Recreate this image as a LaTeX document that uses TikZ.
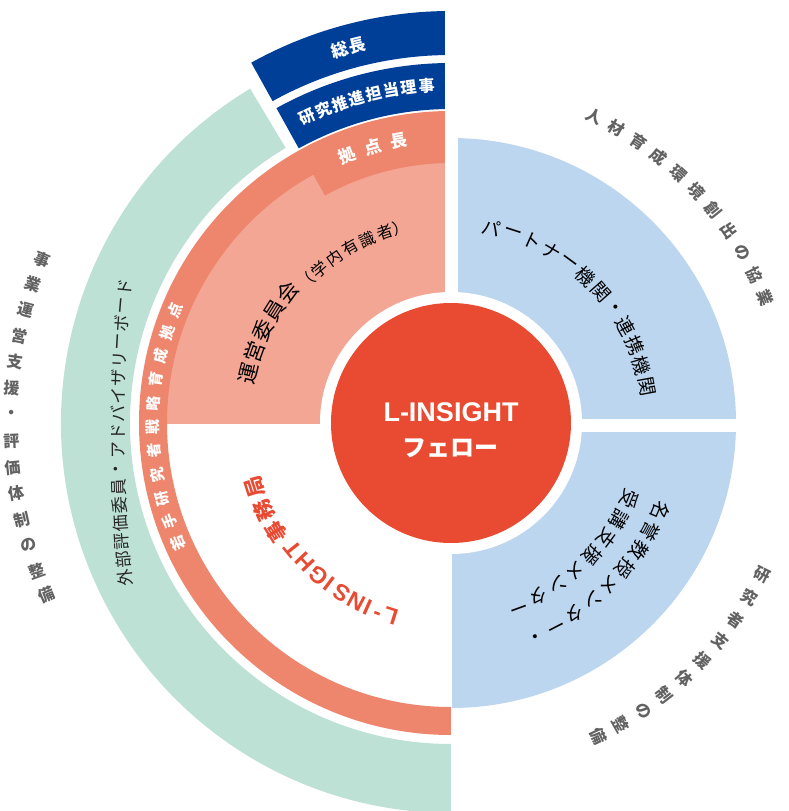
\documentclass[tikz,border=0pt]{standalone}
\usepackage{fontspec}
\setmainfont{Noto Sans CJK JP}
\newfontfamily\heros{Liberation Sans}

\definecolor{navyblue}{RGB}{0,63,152}
\definecolor{salmondark}{RGB}{238,133,109}
\definecolor{salmonlight}{RGB}{243,166,148}
\definecolor{boardgreen}{RGB}{190,225,214}
\definecolor{partnerblue}{RGB}{189,214,239}
\definecolor{corered}{RGB}{232,74,50}
\definecolor{outergray}{RGB}{98,98,98}

\tikzset{
  glyph/.style    = {inner sep=0pt, outer sep=0pt},
  outertxt/.style = {glyph, text=outergray, font=\bfseries\fontsize{16}{16}\selectfont},
  boardtxt/.style = {glyph, text=black!85, font=\fontsize{17}{17}\selectfont},
  bandtxt/.style  = {glyph, text=white, font=\bfseries\fontsize{15}{15}\selectfont},
  headtxt/.style  = {glyph, text=white, font=\bfseries\fontsize{16}{16}\selectfont},
  quadtxt/.style  = {glyph, text=black, font=\fontsize{19}{19}\selectfont},
  officetxt/.style= {glyph, text=corered, font=\heros\bfseries\fontsize{23}{23}\selectfont},
  officejp/.style = {glyph, text=corered, font=\bfseries\fontsize{21}{21}\selectfont},
  core/.style     = {circle, fill=corered, minimum size=240pt, inner sep=0pt}
}

\begin{document}
\begin{tikzpicture}[x=1pt, y=1pt]
  \useasboundingbox (-451,-388) rectangle (337,423);

  % outer board ring and the two head blocks
  \fill[boardgreen] (121:390) arc (121:270:390) -- (270:321) arc (270:121:321) -- cycle;
  \fill[navyblue] (119:412) arc (119:90:412) -- (90:368) arc (90:119:368) -- cycle;
  \fill[navyblue] (119:360) arc (119:90:360) -- (90:314) arc (90:119:314) -- cycle;

  % quadrants
  \begin{scope}
    \clip (-6,0) rectangle (-300,300);
    \fill[salmonlight] (0,0) circle (290);
  \end{scope}
  \begin{scope}
    \clip (7,5) rectangle (300,300);
    \fill[partnerblue] (0,0) circle (285);
  \end{scope}
  \begin{scope}
    \clip (1,-9) rectangle (300,-300);
    \fill[partnerblue] (0,0) circle (285);
  \end{scope}

  % strategy band with the base-head step
  \fill[salmondark] (90:312) arc (90:270:312) -- (270:284) arc (270:119:284)
    -- (119:260) arc (119:90:260) -- cycle;
  \fill[white] (-6,5) rectangle (7,423);

  % core
  \fill[white] (0,0) circle (131);
  \node[core] (core) at (0,0) {};
  \node[glyph, text=white, font=\heros\bfseries\fontsize{27}{27}\selectfont] (fellow-en) at (0,11) {L-INSIGHT};
  \node[glyph, text=white, font=\bfseries\fontsize{24}{24}\selectfont] (fellow-jp) at (0,-25) {フェロー};

  % heads
  \foreach \a/\ch [count=\i] in {106.6/総,103.9/長}
    \node[headtxt, font=\bfseries\fontsize{17}{17}\selectfont, rotate=\a-90] (pres-\i) at (\a:389) {\ch};
  \foreach \ch [count=\i from 0] in {研,究,推,進,担,当,理,事}
    \node[headtxt, rotate={115.2-3.01*\i-90}] (vp-\i) at ({115.2-3.01*\i}:338) {\ch};
  \foreach \ch [count=\i from 0] in {拠,点,長}
    \node[headtxt, font=\bfseries\fontsize{17}{17}\selectfont, rotate={111.2-5.4*\i-90}] (base-\i) at ({111.2-5.4*\i}:287) {\ch};

  % band and board texts
  \foreach \ch [count=\i from 0] in {若,手,研,究,者,戦,略,育,成,拠,点}
    \node[bandtxt, rotate={203.8-4.6*\i-90}] (band-\i) at ({203.8-4.6*\i}:298) {\ch};
  \begin{scope}[shift={(1167,-9)}]
    \foreach \ch [count=\i from 0] in {外,部,評,価,委,員,・,ア,ド,バ,イ,ザ,リ,ー,ボ,ー,ド}
      \node[boardtxt, rotate={185.56-0.693*\i-90}] (board-\i) at ({185.56-0.693*\i}:1500) {\ch};
  \end{scope}

  % quadrant texts
  \foreach \ch [count=\i from 0] in {運,営,委,員,会}
    \node[quadtxt, font=\fontsize{21}{21}\selectfont, rotate={166.2-6.2*\i-90}] (comm-\i) at ({166.2-6.2*\i}:209) {\ch};
  \foreach \a/\ch [count=\i] in {135.5/（,130.6/学,125.2/内,119.8/有,114.5/識,109.2/者,104.5/）}
    \node[quadtxt, font=\fontsize{16}{16}\selectfont, rotate=\a-90] (commsub-\i) at (\a:202) {\ch};
  \foreach \ch [count=\i from 0] in {パ,ー,ト,ナ,ー,機,関,・,連,携,機,関}
    \node[quadtxt, rotate={78.2-6.15*\i-90}] (partner-\i) at ({78.2-6.15*\i}:199) {\ch};
  \foreach \ch [count=\i from 0] in {名,誉,教,授,メ,ン,タ,ー,・}
    \node[quadtxt, rotate={-22.8-5.7*\i-90}] (mentor-\i) at ({-22.8-5.7*\i}:227) {\ch};
  \foreach \ch [count=\i from 0] in {受,講,支,援,メ,ン,タ,ー}
    \node[quadtxt, rotate={-23-6.7*\i-90}] (support-\i) at ({-23-6.7*\i}:194) {\ch};
  \foreach \a/\ch [count=\i] in {252.6/L,248.8/-,245.6/I,242/N,237.1/S,232.9/I,229/G,223.6/H,218.6/T}
    \node[officetxt, rotate=\a-90] (office-\i) at (\a:202) {\ch};
  \foreach \a/\ch [count=\i] in {211.7/事,205/務,198/局}
    \node[officejp, rotate=\a-90] (officejp-\i) at (\a:206) {\ch};

  % outer captions
  \foreach \ch [count=\i from 0] in {人,材,育,成,環,境,創,出,の,協,業}
    \node[outertxt, rotate={65-4.33*\i-90}] (env-\i) at ({65-4.33*\i}:338) {\ch};
  \foreach \ch [count=\i from 0] in {研,究,者,支,援,体,制,の,整,備}
    \node[outertxt, rotate={-26-4.32*\i}] (care-\i) at ({-26-4.32*\i}:346) {\ch};
  \foreach \ch [count=\i from 0] in {事,業,運,営,支,援,・,評,価,体,制,の,整,備}
    \node[outertxt, rotate={158.2+3.45*\i-180}] (ops-\i) at ({158.2+3.45*\i}:440) {\ch};
\end{tikzpicture}
\end{document}
